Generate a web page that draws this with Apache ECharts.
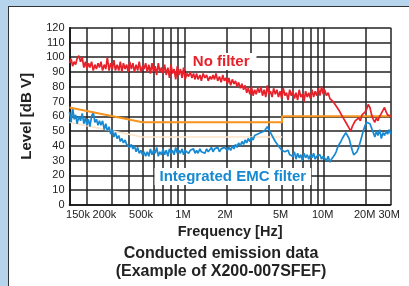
<!DOCTYPE html>
<html>
<head>
<meta charset="utf-8">
<script src="https://cdn.jsdelivr.net/npm/echarts@6/dist/echarts.min.js"></script>
<style>
html,body{margin:0;padding:0;background:#b6d5ec;overflow:hidden;}
#frame{position:absolute;left:8px;top:6px;width:440px;height:320px;background:#fff;border:1.5px solid #333;box-sizing:border-box;}
#c{position:absolute;left:0;top:0;width:409px;height:286px;}
</style>
</head>
<body>
<div id="frame"></div>
<div id="c"></div>
<script>
// Frequencies in kHz
const freqKHz = [
150,154,158,162,166,170,175,180,185,190,
195,200,205,210,216,222,228,234,240,246,
252,259,266,273,280,288,296,304,312,320,
329,338,347,356,365,375,385,395,405,416,
427,438,450,462,474,487,500,513,527,541,
555,570,585,600,616,632,649,666,684,702,
720,740,760,780,800,820,842,865,888,911,
935,960,985,1010,1040,1070,1100,1130,1160,1190,
1220,1250,1290,1320,1360,1400,1440,1480,1520,1560,
1600,1640,1680,1730,1780,1830,1880,1930,1980,2030,
2080,2140,2200,2260,2320,2380,2440,2510,2580,2650,
2720,2790,2860,2940,3020,3100,3180,3260,3350,3440,
3530,3620,3720,3820,3920,4020,4130,4240,4350,4470,
4590,4710,4840,4970,5100,5240,5380,5520,5670,5820,
5970,6130,6290,6460,6630,6810,6990,7180,7370,7570,
7770,7980,8190,8410,8630,8860,9100,9340,9590,9850,
10100,10400,10700,11000,11300,11600,11900,12200,12500,12800,
13200,13500,13900,14300,14700,15100,15500,15900,16300,16700,
17200,17700,18200,18700,19200,19700,20200,20700,21300,21900,
22500,23100,23700,24300,25000,25700,26400,27100,27800,28500,
29300,30000
];
// Level [dBuV] without filter
const noFilter = [
96,99,94,97,95,99,101,97,100,93,
97,92,96,93,97,91,95,92,96,93,
97,91,95,92,100,91,96,92,98,91,
95,91,97,90,96,92,95,90,97,92,
96,90,95,91,97,90,94,92,96,90,
95,89,96,90,94,88,96,90,93,89,
95,88,93,86,95,89,92,85,94,88,
92,86,93,85,89,87,90,86,89,85,
89,85,88,84,89,86,88,84,87,85,
88,85,89,84,87,83,88,84,86,82,
86,81,85,82,84,80,83,79,82,78,
81,76,79,75,80,74,78,75,79,76,
80,74,78,73,81,75,77,73,79,75,
78,73,77,72,79,74,76,71,78,74,
77,72,76,71,78,73,75,70,77,73,
76,72,78,73,77,74,79,74,80,75,
78,74,76,72,73,70,69,67,66,64,
63,60,59,56,55,52,50,53,55,57,
56,59,57,61,60,63,65,68,66,61,
58,56,59,57,60,62,64,66,63,61,
62,60
];
// Level [dBuV] with integrated EMC filter
const withFilter = [
63,56,66,58,61,55,60,57,62,55,
59,54,58,53,60,63,56,58,54,57,
54,57,51,55,50,53,48,51,46,49,
45,47,43,45,42,44,41,42,39,41,
38,40,36,39,35,37,34,36,33,36,
33,38,34,37,35,39,33,36,34,38,
34,37,33,38,35,37,34,39,35,37,
35,38,34,37,36,35,37,36,38,35,
37,35,38,36,37,35,38,36,37,39,
36,38,37,39,36,38,37,39,38,37,
39,37,40,38,41,39,42,40,43,41,
44,42,45,43,46,44,47,46,48,47,
49,48,50,51,53,51,49,47,45,43,
42,40,39,37,38,36,35,37,34,35,
33,36,31,35,32,34,30,35,32,34,
31,34,32,35,31,33,32,34,31,33,
32,30,33,29,31,30,34,36,39,41,
43,45,47,49,48,45,41,37,34,33,
36,39,43,47,51,54,56,57,55,52,
49,46,50,47,51,45,49,47,50,48,
51,48
];
// Limit lines
const limitFreq = [150000, 500000, 5000000, 5000000, 30000000];
const limitQP = [66, 56, 56, 60, 60];
const avgFreq = [150000, 500000, 5000000];
const avgLimit = [56, 46, 46];
// Axis ticks
const gridFreqs = [150000,200000,300000,400000,500000,600000,700000,800000,900000,
  1000000,2000000,3000000,4000000,5000000,6000000,7000000,8000000,9000000,
  10000000,20000000,30000000];
const labelFreqs = [150000,200000,500000,1000000,2000000,5000000,10000000,20000000,30000000];
const labelTexts = ['150k','200k','500k','1M','2M','5M','10M','20M','30M'];

const toPairs = (fs, vs, mul) => fs.map((f, i) => [f * mul, vs[i]]);

const chart = echarts.init(document.getElementById('c'), null, {renderer: 'canvas'});
const FONT = '"Liberation Sans", Arial, Helvetica, sans-serif';
const gridLine = {show: true, lineStyle: {color: '#222', width: 1.5}};

chart.setOption({
  animation: false,
  backgroundColor: 'transparent',
  textStyle: {fontFamily: FONT},
  title: {
    text: 'Conducted emission data\n(Example of X200-007SFEF)',
    left: 216, top: 240, textAlign: 'center',
    textStyle: {fontFamily: FONT, fontSize: 16, fontWeight: 'bold', color: '#222', lineHeight: 18}
  },
  grid: {left: 69.5, right: 18.3, top: 27.7, bottom: 81, containLabel: false},
  xAxis: {
    type: 'log', logBase: 10, min: 150000, max: 30000000,
    name: 'Frequency [Hz]', nameLocation: 'middle', nameGap: 13,
    nameTextStyle: {fontFamily: FONT, fontSize: 14.5, fontWeight: 'bold', color: '#222'},
    axisLine: {show: true, lineStyle: {color: '#111', width: 1.6}},
    axisTick: {show: false, customValues: gridFreqs},
    splitLine: gridLine,
    minorSplitLine: {show: false},
    axisLabel: {
      customValues: labelFreqs, margin: 4, fontSize: 11, color: '#222', fontFamily: FONT,
      formatter: function (v) {
        let best = 0, bd = 1e9;
        labelFreqs.forEach((f, i) => { const d = Math.abs(Math.log(v / f)); if (d < bd) { bd = d; best = i; } });
        const t = labelTexts[best];
        if (best === 0) return '{a|' + t + '}';
        if (best === 1) return '{b|' + t + '}';
        return '{n|' + t + '}';
      },
      rich: {
        a: {fontSize: 11, color: '#222', padding: [0, 0, 0, 17]},
        b: {fontSize: 11, color: '#222', padding: [0, 0, 0, 35]},
        n: {fontSize: 11, color: '#222', padding: [0, 3, 0, 0]}
      }
    }
  },
  yAxis: {
    type: 'value', min: 0, max: 120, interval: 10,
    name: 'Level [dB V]', nameLocation: 'middle', nameGap: 35, nameRotate: 90,
    nameTextStyle: {fontFamily: FONT, fontSize: 15, fontWeight: 'bold', color: '#222'},
    axisLine: {show: true, lineStyle: {color: '#111', width: 1.6}},
    axisTick: {show: false},
    splitLine: gridLine,
    axisLabel: {margin: 5, fontSize: 11, color: '#222', fontFamily: FONT}
  },
  series: [
    {
      type: 'line', name: 'avg', data: toPairs(avgFreq, avgLimit, 1),
      symbol: 'none', lineStyle: {color: '#fde2c6', width: 1.5}, z: 2, silent: true
    },
    {
      type: 'line', name: 'Integrated EMC filter', data: toPairs(freqKHz, withFilter, 1000),
      symbol: 'none', lineStyle: {color: '#1689d2', width: 1.7}, z: 3, silent: true,
      markPoint: {
        symbol: 'rect', symbolSize: 0, silent: true,
        label: {show: true, position: 'inside', formatter: 'Integrated EMC filter',
          color: '#1689d2', fontWeight: 'bold', fontSize: 15, fontFamily: FONT,
          backgroundColor: '#fff', padding: [1, 5, 1, 5]},
        data: [{coord: [2220000, 19.3]}]
      }
    },
    {
      type: 'line', name: 'QP limit', data: toPairs(limitFreq, limitQP, 1),
      symbol: 'none', lineStyle: {color: '#f7941d', width: 2}, z: 4, silent: true
    },
    {
      type: 'line', name: 'No filter', data: toPairs(freqKHz, noFilter, 1000),
      symbol: 'none', lineStyle: {color: '#e8202a', width: 1.7}, z: 5, silent: true,
      markPoint: {
        symbol: 'rect', symbolSize: 0, silent: true,
        label: {show: true, position: 'inside', formatter: 'No filter',
          color: '#e8202a', fontWeight: 'bold', fontSize: 15, fontFamily: FONT,
          backgroundColor: '#fff', padding: [1, 7, 1, 7]},
        data: [{coord: [1830000, 97.1]}]
      }
    }
  ]
});
</script>
</body>
</html>
